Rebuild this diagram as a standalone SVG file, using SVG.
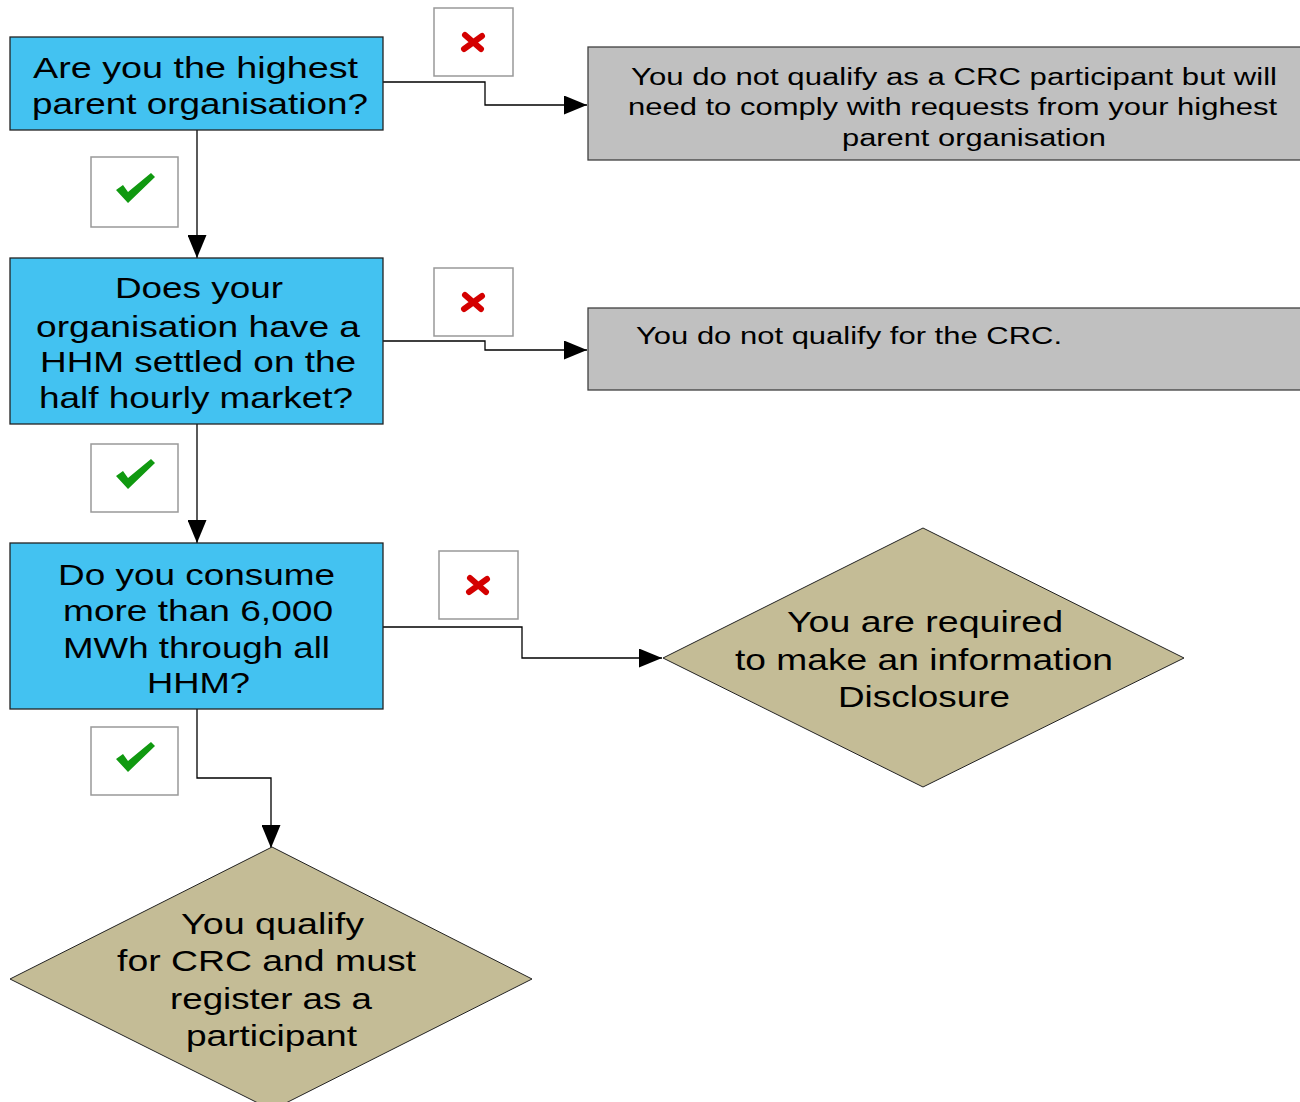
<svg xmlns="http://www.w3.org/2000/svg" width="1300" height="1102" viewBox="0 0 1300 1102">
<defs>
<style>
.q{fill:#43C2F1;stroke:#222;stroke-width:1.3}
.g{fill:#C0C0C0;stroke:#404040;stroke-width:1.3}
.d{fill:#C4BC96;stroke:#222;stroke-width:1}
.t{font-family:"Liberation Sans",Arial,sans-serif;fill:#000}
.tb{font-size:29px}
.tg{font-size:23.5px}
.td{font-size:29px}
.ib{fill:#fff;stroke:#999;stroke-width:1.5}
.ck{fill:#109910}
.x{fill:none;stroke:#D40000;stroke-width:6;stroke-linecap:round}
.c{fill:none;stroke:#000;stroke-width:1.3}
</style>
<marker id="ah" markerWidth="23" markerHeight="19" refX="23" refY="9.5" orient="auto" markerUnits="userSpaceOnUse">
<path d="M0,0 L23,9.5 L0,19 Z" fill="#000"/>
</marker>
</defs>
<rect width="1300" height="1102" fill="#fff"/>

<g id="connectors">
<polyline class="c" points="383,82 485,82 485,105 587,105" marker-end="url(#ah)"/>
<polyline class="c" points="197,130 197,258" marker-end="url(#ah)"/>
<polyline class="c" points="383,341 485,341 485,350 587,350" marker-end="url(#ah)"/>
<polyline class="c" points="197,424 197,543" marker-end="url(#ah)"/>
<polyline class="c" points="383,627 522,627 522,658 662,658" marker-end="url(#ah)"/>
<polyline class="c" points="197,709 197,778 271,778 271,848" marker-end="url(#ah)"/>
</g>

<g id="q1">
<rect class="q" x="10" y="37" width="373" height="93"/>
<text class="t tb" x="33" y="78" textLength="325" lengthAdjust="spacingAndGlyphs">Are you the highest</text>
<text class="t tb" x="32" y="114" textLength="336" lengthAdjust="spacingAndGlyphs">parent organisation?</text>
</g>

<g id="q2">
<rect class="q" x="10" y="258" width="373" height="166"/>
<text class="t tb" x="115" y="298" textLength="168" lengthAdjust="spacingAndGlyphs">Does your</text>
<text class="t tb" x="36" y="337" textLength="324" lengthAdjust="spacingAndGlyphs">organisation have a</text>
<text class="t tb" x="40" y="372" textLength="316" lengthAdjust="spacingAndGlyphs">HHM settled on the</text>
<text class="t tb" x="39" y="408" textLength="314" lengthAdjust="spacingAndGlyphs">half hourly market?</text>
</g>

<g id="q3">
<rect class="q" x="10" y="543" width="373" height="166"/>
<text class="t tb" x="58" y="585" textLength="277" lengthAdjust="spacingAndGlyphs">Do you consume</text>
<text class="t tb" x="63" y="621" textLength="270" lengthAdjust="spacingAndGlyphs">more than 6,000</text>
<text class="t tb" x="63" y="658" textLength="267" lengthAdjust="spacingAndGlyphs">MWh through all</text>
<text class="t tb" x="147" y="693" textLength="103" lengthAdjust="spacingAndGlyphs">HHM?</text>
</g>

<g id="r1">
<rect class="g" x="588" y="47" width="714" height="113"/>
<text class="t tg" x="631" y="85" textLength="646" lengthAdjust="spacingAndGlyphs">You do not qualify as a CRC participant but will</text>
<text class="t tg" x="628" y="115" textLength="649" lengthAdjust="spacingAndGlyphs">need to comply with requests from your highest</text>
<text class="t tg" x="842" y="146" textLength="264" lengthAdjust="spacingAndGlyphs">parent organisation</text>
</g>

<g id="r2">
<rect class="g" x="588" y="308" width="714" height="82"/>
<text class="t tg" x="636" y="344" textLength="426" lengthAdjust="spacingAndGlyphs">You do not qualify for the CRC.</text>
</g>

<g id="r3">
<polygon class="d" points="923,528 1184,658 923,787 663,658"/>
<text class="t td" x="787" y="632" textLength="276" lengthAdjust="spacingAndGlyphs">You are required</text>
<text class="t td" x="735" y="670" textLength="378" lengthAdjust="spacingAndGlyphs">to make an information</text>
<text class="t td" x="838" y="707" textLength="172" lengthAdjust="spacingAndGlyphs">Disclosure</text>
</g>

<g id="r4">
<polygon class="d" points="272,847 532,979 272,1110 10,979"/>
<text class="t td" x="181" y="934" textLength="183" lengthAdjust="spacingAndGlyphs">You qualify</text>
<text class="t td" x="117" y="971" textLength="299" lengthAdjust="spacingAndGlyphs">for CRC and must</text>
<text class="t td" x="170" y="1009" textLength="202" lengthAdjust="spacingAndGlyphs">register as a</text>
<text class="t td" x="186" y="1046" textLength="171" lengthAdjust="spacingAndGlyphs">participant</text>
</g>

<g id="no1">
<rect class="ib" x="434" y="8" width="79" height="68"/>
<path class="x" d="M465,35 L481,49 M482,36 L464,49"/>
</g>
<g id="no2">
<rect class="ib" x="434" y="268" width="79" height="68"/>
<path class="x" d="M465,295 L481,309 M482,296 L464,309"/>
</g>
<g id="no3">
<rect class="ib" x="439" y="551" width="79" height="68"/>
<path class="x" d="M470,578 L486,592 M487,579 L469,592"/>
</g>

<g id="yes1">
<rect class="ib" x="91" y="157" width="87" height="70"/>
<path class="ck" d="M116,190 L123,185 L128,192 L151,173 L155,177 L128,203 Z"/>
</g>
<g id="yes2">
<rect class="ib" x="91" y="444" width="87" height="68"/>
<path class="ck" d="M116,476 L123,471 L128,478 L151,459 L155,463 L128,489 Z"/>
</g>
<g id="yes3">
<rect class="ib" x="91" y="727" width="87" height="68"/>
<path class="ck" d="M116,759 L123,754 L128,761 L151,742 L155,746 L128,772 Z"/>
</g>
</svg>
